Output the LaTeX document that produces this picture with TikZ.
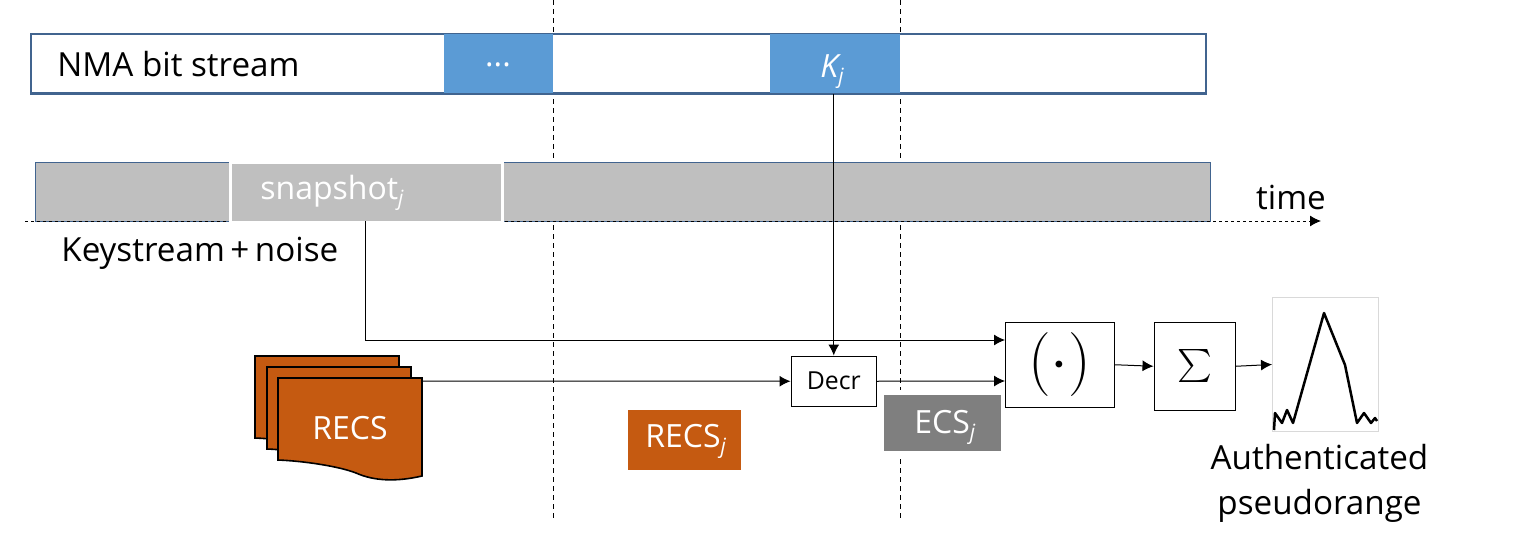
\documentclass[tikz,border=0pt]{standalone}
\usepackage{fontspec}
\usepackage{graphicx}
\setmainfont{Open Sans}
\usetikzlibrary{arrows.meta}
\definecolor{barblue}{HTML}{5B9BD5}
\definecolor{barline}{HTML}{41648F}
\definecolor{bargray}{HTML}{BFBFBF}
\definecolor{recs}{HTML}{C55A11}
\definecolor{ecsgray}{HTML}{7F7F7F}
\newcommand{\subj}{\raisebox{-0.35ex}{\fontsize{10.5}{12}\selectfont\itshape j}}
\tikzset{
  x=0.5pt,y=-0.5pt,
  arr/.style={-{Latex[length=5.5pt,width=5.5pt]},line width=0.5pt,black},
  vdash/.style={line width=0.4pt,black,dash pattern=on 2.5pt off 2pt},
  bar/.style={draw=barline,line width=0.7pt,inner sep=0pt,anchor=north west,minimum width=587.5pt,minimum height=29.5pt},
  solid block/.style={inner sep=0pt,anchor=north west},
  boxn/.style={draw=black,line width=0.75pt,fill=white,inner sep=0pt,anchor=north west},
  lab/.style={inner sep=0pt,font=\fontsize{16.6}{22.5}\selectfont},
  wlab/.style={inner sep=0pt,text=white,font=\fontsize{16}{19}\selectfont},
  page/.style={draw=black,line width=0.8pt,fill=recs,line join=miter},
}
\newcommand{\wavepage}[2]{%
  \begin{scope}[shift={(#1,#2)}]
  \path[page] (0,0) -- (144,0) -- (144,98)
    .. controls (118,104) and (96,103) .. (78,95)
    .. controls (60,88) and (25,83) .. (0,82) -- cycle;
  \end{scope}}
\begin{document}
\begin{tikzpicture}
\useasboundingbox (0,0) rectangle (1520,556);
% dividers
\coordinate (v1t) at (553,0); \coordinate (v1b) at (553,521);
\coordinate (v2t) at (900,0); \coordinate (v2b) at (900,521);
\draw[vdash] (v1t) -- (v1b);
\draw[vdash] (v2t) -- (v2b);
% top bar
\node[bar,fill=white,minimum width=587pt] (nma) at (30.5,33.5) {};
\node[solid block,fill=barblue,minimum width=54.5pt,minimum height=29.5pt] (dots) at (444,34) {};
\node[solid block,fill=barblue,minimum width=65pt,minimum height=29.5pt] (kj) at (770,34) {};
\draw[draw=barline,line width=0.7pt] (nma.north west) rectangle (nma.south east);
\node[lab,anchor=west] (nmat) at (57,64) {NMA bit stream};
\node[wlab] (dotst) at (498,65) {...};
\node[wlab,anchor=west] (kjt) at (820,72) {\itshape K\subj};
% bottom bar
\node[bar,fill=bargray] (kbar) at (34.5,161.5) {};
\coordinate (ts) at (25,221); \coordinate (te) at (1321,221);
\draw[arr,dash pattern=on 1.5pt off 1.5pt] (ts) -- (te);
\node[draw=white,line width=1.3pt,fill=bargray,solid block,minimum width=136pt,minimum height=30pt] (snap) at (229,161) {};
\node[wlab,anchor=west] (snapt) at (260,193) {snapshot\subj};
\node[lab,anchor=west] (ks) at (61,253) {Keystream\,+\,noise};
\node[lab] (time) at (1291,197) {time};
% RECS stack
\wavepage{255}{356}
\wavepage{267}{367}
\wavepage{278}{378}
\coordinate (recso) at (422,381);
\node[wlab] (recst) at (350,428) {RECS};
% small labels
\node[solid block,fill=recs,minimum width=56.5pt,minimum height=30pt] (recsj) at (628,410) {};
\node[wlab,anchor=west] (recsjt) at (645,441) {RECS\subj};
\fill[white] (880,390) rectangle (1005,455);
\node[solid block,fill=ecsgray,minimum width=58.5pt,minimum height=28pt] (ecsj) at (884,395) {};
\node[wlab,anchor=west] (ecsjt) at (914,427) {ECS\subj};
% processing boxes
\node[boxn,minimum width=42.5pt,minimum height=25pt,font=\fontsize{12.4}{14}\selectfont] (decr) at (790.5,355.5) {Decr};
\node[boxn,minimum width=54.5pt,minimum height=42.5pt] (prod) at (1004.5,321.5) {\scalebox{1.85}{\fontsize{19}{22}\selectfont$(\cdot)$}};
\node[boxn,minimum width=40.5pt,minimum height=44pt] (sum) at (1153.5,321.5) {\scalebox{1.65}{\fontsize{19}{22}\selectfont$\sum$}};
% correlation plot
\node[draw=black!15,line width=0.5pt,fill=white,solid block,minimum width=53pt,minimum height=67pt] (plot) at (1272,297) {};
\draw[line width=1.25pt,line join=round,black] (1274,430) -- (1275,413) -- (1282,423) -- (1287,410) -- (1293,423) -- (1324,313) -- (1345,365) -- (1357,423) -- (1364,413) -- (1371,423) -- (1375,418) -- (1377,421);
% text
\node[lab,align=center] (auth) at (1319.5,483) {Authenticated\\pseudorange};
% connectors
\coordinate (s1) at (365,221);
\coordinate (p1) at (365,340);
\coordinate (pt) at (1005,340);
\coordinate (pb) at (1005,381);
\draw[arr] (decr.north |- kj.south) -- (decr.north);
\draw[arr] (s1) -- (p1) -- (pt);
\draw[arr] (recso) -- (decr.west);
\draw[arr] (decr.east) -- (pb);
\draw[arr] (prod.east) -- (sum.west);
\draw[arr] (sum.east) -- (plot.west);
\end{tikzpicture}
\end{document}
